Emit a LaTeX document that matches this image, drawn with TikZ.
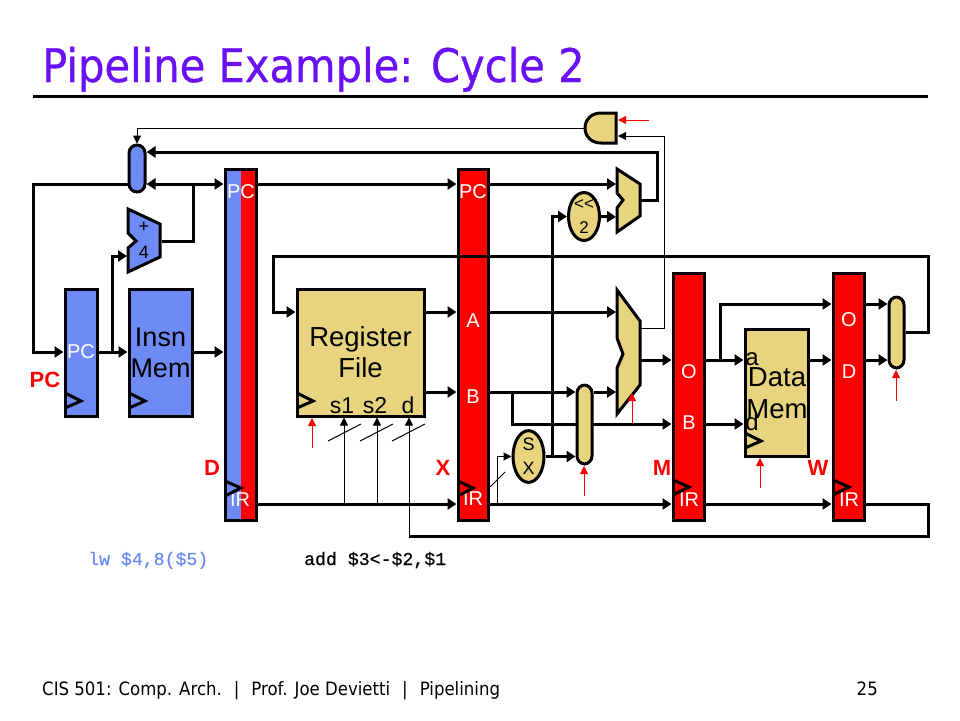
\documentclass[tikz,border=0pt]{standalone}
\usepackage{fontspec}
\setmainfont{Liberation Sans}
\newfontfamily\slidefont[FakeStretch=0.9]{DejaVu Sans}
\newfontfamily\titlefont[FakeStretch=0.9,FakeBold=0.6]{DejaVu Sans}
\newfontfamily\codefont[FakeBold=0.5]{Liberation Mono}
\usetikzlibrary{arrows.meta,shapes.geometric,backgrounds}
\definecolor{cblue}{HTML}{6E8AF5}
\definecolor{ctan}{HTML}{E8D37F}
\definecolor{ctitle}{HTML}{6A10F5}
\newcommand{\fsz}[2]{\fontsize{#1}{#2}\selectfont}
\newcommand{\blk}[6]{\node[blockbox,#6,minimum width={#4-#2},minimum height={#5-#3}] (#1) at ({(#2+#4)/2},{(#3+#5)/2}) {};}
\tikzset{
  x=1pt,y=-1pt,
  blockbox/.style={draw=black,line width=3pt,inner sep=0pt,align=center,text=black},
  bluefill/.style={fill=cblue},
  redfill/.style={fill=red},
  tanfill/.style={fill=ctan},
  halffill/.style={fill=cblue,path picture={\fill[red] (path picture bounding box.north) rectangle (path picture bounding box.south east);}},
  pill/.style={rounded corners=8pt},
  oval/.style={draw=black,line width=3pt,fill=ctan,ellipse,inner sep=0pt,align=center,text=black},
  wire/.style={draw=black,line width=3pt,line join=miter},
  thin wire/.style={draw=black,line width=1pt},
  redwire/.style={draw=red,line width=1pt,-{Triangle[length=8pt,width=8pt]}},
  arr/.style={-{Triangle[length=9pt,width=11pt]}},
  darr/.style={{Triangle[length=9pt,width=11pt]}-{Triangle[length=9pt,width=11pt]}},
  tarr/.style={-{Triangle[length=8pt,width=8pt]}},
  chev/.style={draw=black,line width=3pt,miter limit=10},
  gate/.style={draw=black,line width=3pt,line join=miter,miter limit=10},
  wlab/.style={text=white,font=\fsz{20}{22},inner sep=0pt},
  blab/.style={text=black,inner sep=0pt},
  rlab/.style={text=red,font=\fsz{22}{24}\bfseries,inner sep=0pt},
}
\begin{document}
\begin{tikzpicture}
\useasboundingbox (0,0) rectangle (960,720);

% title and footer
\node[anchor=base west,inner sep=0pt,text=ctitle,font=\titlefont\fsz{46.3}{50}] (title) at (42,82) {Pipeline Example: Cycle 2};
\coordinate (ruleL) at (33,96);
\coordinate (ruleR) at (928,96);
\draw[line width=3pt] (ruleL) -- (ruleR);
\node[anchor=base west,inner sep=0pt,font=\slidefont\fsz{18.4}{20}] (foot) at (42,695) {CIS 501: Comp. Arch.\hspace{12pt}|\hspace{12pt}Prof. Joe Devietti\hspace{12pt}|\hspace{12pt}Pipelining};
\node[anchor=base east,inner sep=0pt,font=\slidefont\fsz{18.4}{20}] (page) at (878,695) {25};

% blocks
\blk{pc}{65}{289}{97}{416}{bluefill}
\blk{imem}{129}{289}{192}{416}{bluefill}
\node[blab,font=\fsz{27}{31},align=center] (imemtext) at (160.5,352.5) {Insn\\Mem};
\blk{dl}{225}{169}{256}{520}{halffill}
\blk{rf}{297}{289}{424}{416}{tanfill}
\node[blab,font=\fsz{27.5}{31},align=center] (rftext) at (360.5,352.5) {Register\\File};
\blk{xl}{458}{169}{488}{520}{redfill}
\blk{ml}{673}{273}{704}{520}{redfill}
\blk{wl}{833}{273}{864}{520}{redfill}
\blk{dm}{745}{329}{808}{456}{tanfill}
\node[blab,font=\fsz{27.5}{32},align=center] (dmtext) at (777,393) {Data\\Mem};
\blk{pcmux}{129}{145}{145}{192}{bluefill,pill}
\blk{bmux}{577}{385}{592}{464}{tanfill,pill}
\blk{wbmux}{889}{297}{904}{368}{tanfill,pill}
\node[oval,minimum width=31pt,minimum height=47pt,font=\fsz{17}{24}] (shift) at (584,216.5) {{<}{<}\\2};
\node[oval,minimum width=31pt,minimum height=47pt,font=\fsz{18}{24}] (sx) at (528.5,456.5) {S\\X};

% polygon units
\draw[gate,fill=cblue] (128,209) -- (160,224) -- (160,257) -- (128,272) -- (128,248) -- (136,241) -- (128,233) -- cycle;
\coordinate (addin) at (127,256);
\coordinate (addout) at (162,241);
\node[blab,font=\fsz{18}{20}] (plus) at (144,227) {+};
\node[blab,font=\fsz{18}{20}] (four) at (144,252) {4};
\draw[gate,fill=ctan] (617,169) -- (640,184) -- (640,216) -- (617,232) -- (617,208) -- (623,200) -- (617,193) -- cycle;
\coordinate (brin) at (616,184);
\coordinate (brin2) at (616,217);
\coordinate (brout) at (641,200);
\draw[gate,fill=ctan] (617,290) -- (640,321) -- (640,385) -- (617,414) -- (617,368) -- (623,354) -- (617,338) -- cycle;
\coordinate (aluA) at (616,312);
\coordinate (aluB) at (616,392);
\coordinate (aluout) at (641,360);
\coordinate (alutap) at (641,328);
\draw[gate,fill=ctan] (616,113) -- (601,113) .. controls (591,113) and (585,120) .. (585,128) .. controls (585,136) and (591,143) .. (601,143) -- (616,143) -- cycle;
\coordinate (andout) at (584,128);
\coordinate (andin1) at (618,120);
\coordinate (andin2) at (618,136);

% small labels
\node[wlab] (lpc0) at (81,352) {PC};
\node[wlab] (lpc1) at (241,192) {PC};
\node[wlab] (lir1) at (240,500) {IR};
\node[wlab] (lpc2) at (473,192) {PC};
\node[wlab] (la) at (473,321) {A};
\node[wlab] (lb) at (473,397) {B};
\node[wlab] (lir2) at (473,499) {IR};
\node[wlab] (lo3) at (689,372) {O};
\node[wlab] (lb3) at (689,423) {B};
\node[wlab] (lir3) at (689,500) {IR};
\node[wlab] (lo4) at (849,320) {O};
\node[wlab] (ld4) at (849,372) {D};
\node[wlab] (lir4) at (849,500) {IR};
\node[blab,font=\fsz{23}{24},anchor=base] (s1) at (342,413) {s1};
\node[blab,font=\fsz{23}{24},anchor=base] (s2) at (375,413) {s2};
\node[blab,font=\fsz{23}{24},anchor=base] (dd) at (408,413) {d};
\node[blab,font=\fsz{24}{24},anchor=base] (ma) at (752,365) {a};
\node[blab,font=\fsz{24}{24},anchor=base] (md) at (752,430) {d};
\node[rlab] (rpc) at (45,380) {PC};
\node[rlab] (rd) at (212,468) {D};
\node[rlab] (rx) at (443,468) {X};
\node[rlab] (rm) at (662,468) {M};
\node[rlab] (rw) at (818,468) {W};
\node[anchor=base west,inner sep=0pt,text=cblue,font=\codefont\fsz{18.2}{20}] (i1) at (88,565) {lw \$4,8(\$5)};
\node[anchor=base west,inner sep=0pt,text=black,font=\codefont\fsz{18.2}{20}] (i2) at (304,565) {add \$3<-\$2,\$1};

% clock chevrons
\draw[chev] (65,393) -- (81,401) -- (65,408);
\draw[chev] (129,393) -- (145,401) -- (129,408);
\draw[chev] (297,393) -- (313,401) -- (297,408);
\draw[chev] (745,433) -- (761,441) -- (745,448);
\draw[chev] (225,481) -- (241,488) -- (225,496);
\draw[chev] (458,481) -- (473,488) -- (458,496);
\draw[chev] (673,480) -- (689,487) -- (673,495);
\draw[chev] (833,480) -- (849,487) -- (833,495);

% junctions
\coordinate (jfb1) at (33,184);
\coordinate (jpc) at (112,352);
\coordinate (jadd) at (193,184);
\coordinate (jbr) at (657,200);
\coordinate (jsx) at (552,456);
\coordinate (jb) at (512,392);
\coordinate (jo) at (720,360);
\coordinate (jalu) at (664,328);
\coordinate (jir) at (497,504);
\coordinate (js1) at (344,504);
\coordinate (js2) at (377,504);
\coordinate (jd) at (409,536);
\coordinate (jw) at (928,504);

\begin{scope}[on background layer]
\fill[white] (0,0) rectangle (960,720);
\draw[wire,arr] (pcmux.west |- jfb1) -- (jfb1) |- (pc.west |- 0,352);
\draw[wire,arr] (pc.east |- 0,352) -- (imem.west |- 0,352);
\draw[wire,arr] (jpc) |- (addin);
\draw[wire] (addout) -| (jadd);
\draw[wire,darr] (pcmux.east |- jadd) -- (dl.west |- jadd);
\draw[wire,arr] (brout) -| (657,152) -- (pcmux.east |- 0,152);
\draw[thin wire,tarr] (andout) -| (pcmux.north);
\draw[wire,arr] (dl.east |- 0,184) -- (xl.west |- 0,184);
\draw[wire,arr] (xl.east |- 0,184) -- (brin);
\draw[wire,arr] (shift.east) -- (brin2);
\draw[wire,arr] (jsx) |- (shift.west);
\draw[wire,arr] (sx.east) -- (bmux.west |- sx.east);
\draw[wire,arr] (imem.east |- 0,352) -- (dl.west |- 0,352);
\draw[wire,arr] (rf.east |- 0,312) -- (xl.west |- 0,312);
\draw[wire,arr] (rf.east |- 0,392) -- (xl.west |- 0,392);
\draw[wire,arr] (xl.east |- 0,312) -- (aluA);
\draw[wire,arr] (xl.east |- 0,392) -- (bmux.west |- 0,392);
\draw[wire,arr] (jb) |- (ml.west |- 0,424);
\draw[wire,arr] (bmux.east |- 0,392) -- (aluB);
\draw[wire,arr] (aluout) -- (ml.west |- aluout);
\draw[thin wire,tarr] (alutap) -| (jalu) |- (andin2);
\draw[redwire] (649,120) -- (andin1);
\draw[wire,arr] (ml.east |- 0,360) -- (dm.west |- 0,360);
\draw[wire,arr] (jo) |- (wl.west |- 0,304);
\draw[wire,arr] (ml.east |- 0,424) -- (dm.west |- 0,424);
\draw[wire,arr] (dm.east |- 0,360) -- (wl.west |- 0,360);
\draw[wire,arr] (wl.east |- 0,304) -- (wbmux.west |- 0,304);
\draw[wire,arr] (wl.east |- 0,360) -- (wbmux.west |- 0,360);
\draw[wire,arr] (dl.east |- 0,504) -- (xl.west |- 0,504);
\draw[wire,arr] (xl.east |- 0,504) -- (ml.west |- 0,504);
\draw[wire,arr] (ml.east |- 0,504) -- (wl.west |- 0,504);
\draw[wire] (wl.east |- 0,504) -- (jw) |- (jd);
\draw[thin wire,tarr] (jd) -- (jd |- rf.south);
\draw[thin wire,tarr] (js1) -- (js1 |- rf.south);
\draw[thin wire,tarr] (js2) -- (js2 |- rf.south);
\draw[thin wire,tarr] (jir) |- (sx.west);
\draw[redwire] (312,448) -- (312,418);
\draw[redwire] (584,496) -- (584,466);
\draw[redwire] (760,488) -- (760,458);
\draw[redwire] (896,401) -- (896,370);
\draw[thin wire] (328,441) -- (361,424);
\draw[thin wire] (360,441) -- (393,424);
\draw[thin wire] (392,441) -- (425,424);
\draw[thin wire] (490,487) -- (505,472);
\end{scope}
% these run over the units
\draw[redwire] (632,423) -- (632,393);
\draw[wire,arr] (wbmux.east) -| (928,256) -| (273,312) -- (rf.west |- 0,312);
\end{tikzpicture}
\end{document}
